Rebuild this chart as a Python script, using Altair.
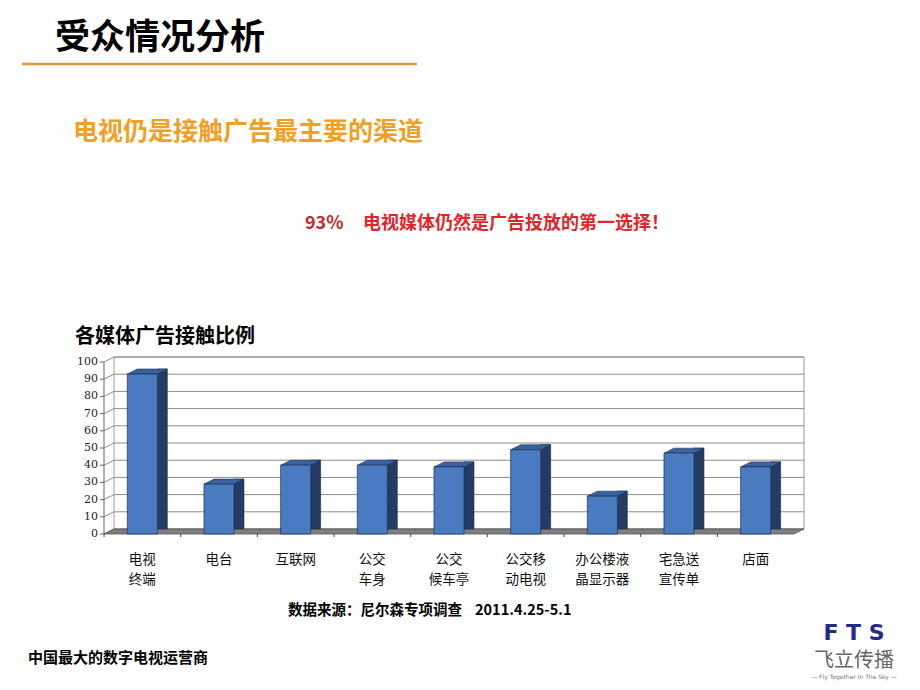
import altair as alt
import pandas as pd

# ---- data ----
categories = ["电视 终端", "电台", "互联网", "公交 车身", "公交 候车亭",
              "公交移 动电视", "办公楼液 晶显示器", "宅急送 宣传单", "店面"]
values = [93, 29, 40, 40, 39, 49, 22, 47, 39]
y_ticks = [0, 10, 20, 30, 40, 50, 60, 70, 80, 90, 100]

header = "受众情况分析"
subtitle = "电视仍是接触广告最主要的渠道"
highlight_pct = "93%"
highlight_text = "电视媒体仍然是广告投放的第一选择！"
chart_title = "各媒体广告接触比例"
source_text = "数据来源：尼尔森专项调查"
source_date = "2011.4.25-5.1"
footer = "中国最大的数字电视运营商"

df = pd.DataFrame({"media": categories, "pct": values})
grid_df = pd.DataFrame({"v": y_ticks})

W, H = 690, 172
DX, DY = 10, -5
CJK = "Noto Sans CJK SC"

FRONT = "#4A7BC0"
SIDE = "#243C63"
TOP = "#3A62A0"
EDGE = "#1B2F52"

XS = alt.Scale(paddingInner=0.608, paddingOuter=0.304)
YS = alt.Scale(domain=[0, 100])


def xenc():
    return alt.X("media:N", sort=categories, scale=XS, axis=None)


def yenc(field="pct:Q"):
    return alt.Y(field, scale=YS, axis=None)


one = alt.Data(values=[{}])

# back wall
wall = alt.Chart(one).mark_rect(fill="white", stroke="#9a9a9a", strokeWidth=1).encode(
    x=alt.value(DX), x2=alt.value(W + DX), y=alt.value(DY), y2=alt.value(H + DY))

grid = alt.Chart(grid_df).mark_rule(color="#8c8c8c", strokeWidth=1, yOffset=DY).encode(
    y=yenc("v:Q"), x=alt.value(DX), x2=alt.value(W + DX))

side_grid = alt.Chart(grid_df).mark_rule(color="#8c8c8c", strokeWidth=1, y2Offset=DY).encode(
    y=yenc("v:Q"), y2=alt.Y2("v"), x=alt.value(0), x2=alt.value(DX))

floor = alt.Chart(one).mark_point(
    shape=f"M0,0L{W},0L{W + DX},{DY}L{DX},{DY}Z", size=4, filled=True,
    fill="#7f7f7f", stroke="#555", strokeWidth=0.8, opacity=1).encode(
    x=alt.value(0), y=alt.value(H))

# y axis (front edge of the left wall)
y_domain = alt.Chart(one).mark_rule(color="#666", strokeWidth=1).encode(
    x=alt.value(0), y=alt.value(0), y2=alt.value(H))
y_tick_marks = alt.Chart(grid_df).mark_rule(color="#666", strokeWidth=1).encode(
    y=yenc("v:Q"), x=alt.value(-4), x2=alt.value(0))
y_labels = alt.Chart(grid_df).mark_text(
    align="right", baseline="middle", dx=-6, font="DejaVu Serif", fontSize=11,
    color="#222").encode(y=yenc("v:Q"), x=alt.value(0), text="v:Q")

# small ticks on the floor between categories
floor_ticks = alt.Chart(df).mark_rule(color="#444", strokeWidth=1, xOffset=-38.3).encode(
    x=xenc(), y=alt.value(H), y2=alt.value(H + 3))

# x labels (one or two lines each)
x_labels = alt.Chart(df).transform_calculate(
    lines="split(datum.media, ' ')").mark_text(
    font=CJK, fontSize=13.5, color="#111", baseline="top", lineHeight=19.6).encode(
    x=xenc(), y=alt.value(191), text="lines:N")

side = alt.Chart(df).mark_bar(width=DX, xOffset=15 + DX / 2, yOffset=DY, y2Offset=DY / 2,
                              color=SIDE, stroke=EDGE, strokeWidth=0.6).encode(
    x=xenc(), y=yenc())

top = alt.Chart(df).mark_point(
    shape=f"M-15,0L15,0L{15 + DX},{DY}L{-15 + DX},{DY}Z", size=4, filled=True,
    fill=TOP, stroke=EDGE, strokeWidth=0.6, opacity=1).encode(
    x=xenc(), y=yenc())

front = alt.Chart(df).mark_bar(color=FRONT, stroke=EDGE, strokeWidth=0.7).encode(
    x=xenc(), y=yenc())


def label(text, px, py, size, color="#000", weight="bold", font=CJK, align="left"):
    return alt.Chart(one).mark_text(
        text=text, font=font, fontSize=size, fontWeight=weight, color=color,
        align=align, baseline="middle").encode(x=alt.value(px), y=alt.value(py))


orange_line = alt.Chart(one).mark_rule(color="#E8963A", strokeWidth=2.5).encode(
    x=alt.value(-82), x2=alt.value(313), y=alt.value(-298))

texts = [
    label(header, -49, -324, 35),
    label(subtitle, -31, -230, 25, color="#F0A023"),
    label(highlight_pct, 201, -138, 18, color="#C42A2C"),
    label(highlight_text, 259, -138, 18, color="#E3232A"),
    label(chart_title, -29, -25, 20),
    label(source_text, 184, 249, 14.5),
    label(source_date, 371, 249, 14.5),
    label(footer, -76, 296, 15),
    label("F T S", 750, 271, 22, color="#26288A", font="DejaVu Sans", align="center"),
    label("飞立传播", 750, 299, 20, color="#666", weight="normal", align="center"),
    label("— Fly Together In The Sky —", 750, 315, 6, color="#777", weight="normal",
          font="DejaVu Sans", align="center"),
]

chart = alt.layer(wall, grid, side_grid, floor, floor_ticks, y_domain, y_tick_marks,
                  y_labels, x_labels, side, top, front, orange_line, *texts).properties(
    width=W, height=H,
    autosize=alt.AutoSizeParams(type="none"),
    padding={"left": 96, "top": 354, "right": 118, "bottom": 148},
    background="white",
).configure_view(stroke=None)

chart.save("out.html", embed_options={"renderer": "svg", "actions": False})
